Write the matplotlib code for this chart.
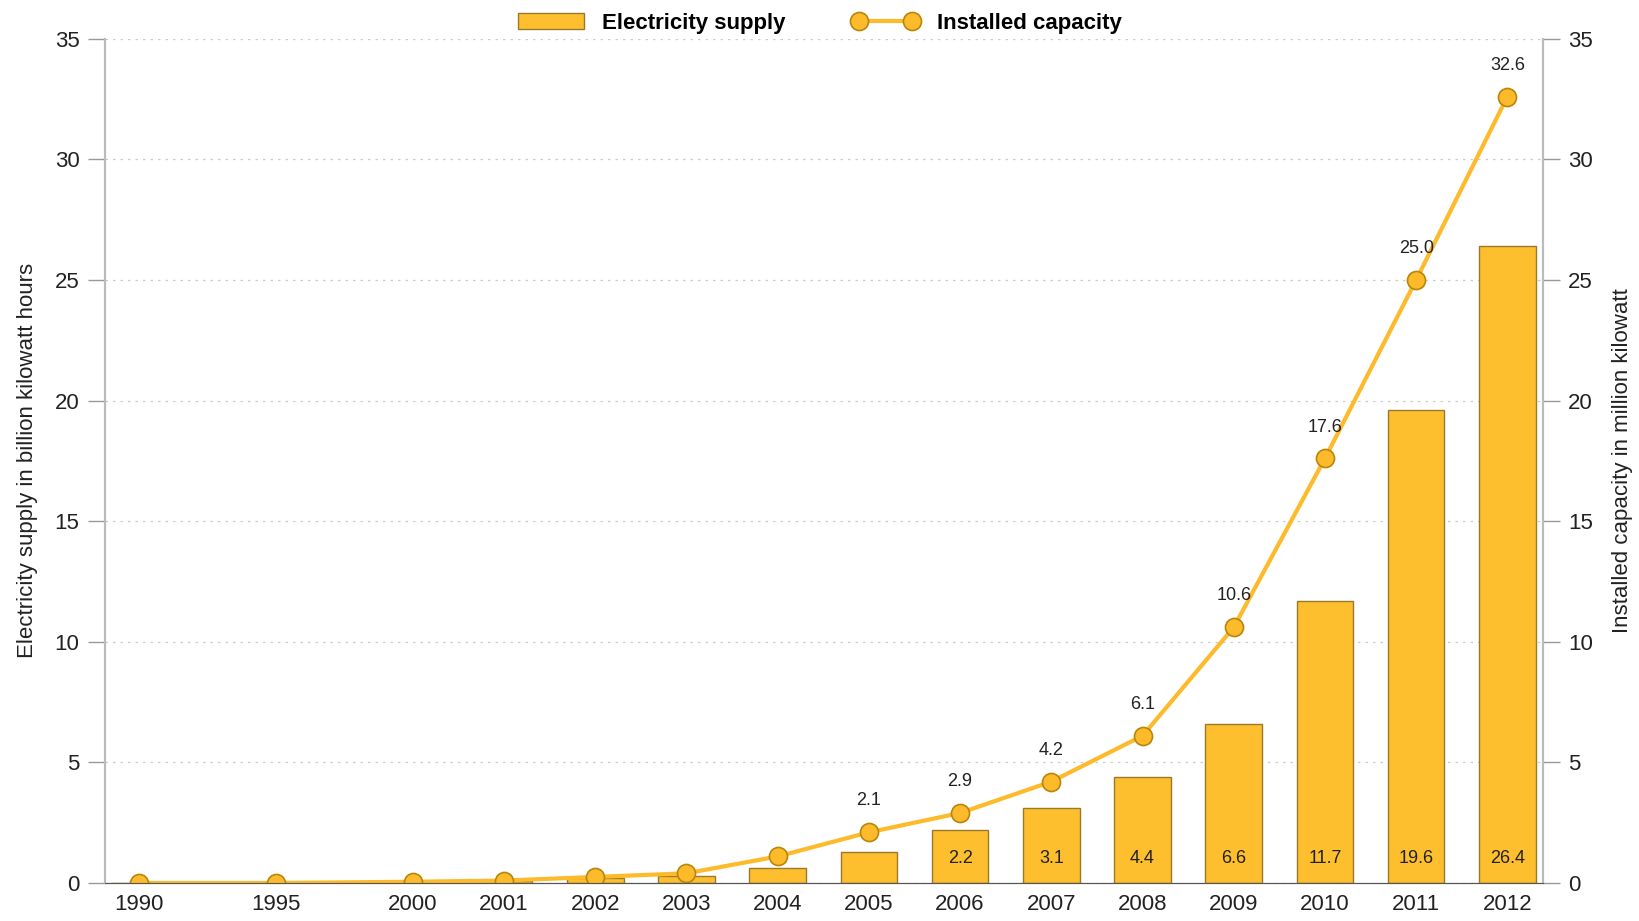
import matplotlib.pyplot as plt
import numpy as np

years = ['1990', '1995', '2000', '2001', '2002', '2003', '2004', '2005',
         '2006', '2007', '2008', '2009', '2010', '2011', '2012']
xpos = [0, 1.5, 3, 4, 5, 6, 7, 8, 9, 10, 11, 12, 13, 14, 15]
supply = [0.0, 0.0, 0.05, 0.1, 0.2, 0.3, 0.6, 1.3, 2.2, 3.1, 4.4, 6.6, 11.7, 19.6, 26.4]
capacity = [0.0, 0.0, 0.05, 0.1, 0.25, 0.4, 1.1, 2.1, 2.9, 4.2, 6.1, 10.6, 17.6, 25.0, 32.6]
supply_labels = ['', '', '', '', '', '', '', '', '2.2', '3.1', '4.4', '6.6', '11.7', '19.6', '26.4']
capacity_labels = ['', '', '', '', '', '', '', '2.1', '2.9', '4.2', '6.1', '10.6', '17.6', '25.0', '32.6']

plt.rcParams['font.family'] = ['Liberation Sans', 'DejaVu Sans']

bar_col = '#FDBF2E'
bar_edge = '#9A7A2A'
line_col = '#FDBA2A'
mk_edge = '#B8860B'
txt = '#222222'

fig = plt.figure(figsize=(16.39, 9.21), dpi=100)
ax = fig.add_axes([0.0638, 0.0413, 0.8776, 0.9167])
ax2 = ax.twinx()

bars = ax.bar(xpos, supply, width=0.62, color=bar_col, edgecolor=bar_edge, linewidth=1.0,
              label='Electricity supply', zorder=2)
ln, = ax.plot(xpos, capacity, color=line_col, lw=3, marker='o', ms=13,
              markerfacecolor=line_col, markeredgecolor=mk_edge, markeredgewidth=1.2,
              label='Installed capacity', zorder=3)

for x, v, s in zip(xpos, supply, supply_labels):
    if s:
        ax.text(x, 1.0, s, ha='center', va='center', fontsize=13, color=txt, zorder=4)
for x, v, s in zip(xpos, capacity, capacity_labels):
    if s:
        ax.text(x, v + 1.3, s, ha='center', va='center', fontsize=13, color=txt, zorder=4)

ax.set_xlim(-0.38, 15.39)
for a in (ax, ax2):
    a.set_ylim(0, 35)
    a.set_yticks(range(0, 36, 5))
ax.set_xticks(xpos)
ax.set_xticklabels(years)

ax.grid(axis='y', color='#cccccc', linestyle=(0, (2, 4)), linewidth=0.9, zorder=0)
ax.set_axisbelow(True)

for a in (ax, ax2):
    a.spines['top'].set_visible(False)
    a.spines['left'].set_color('#bbbbbb')
    a.spines['right'].set_color('#bbbbbb')
    a.spines['bottom'].set_color('#555555')
    a.spines['left'].set_linewidth(1.5)
    a.spines['right'].set_linewidth(1.5)

ax.tick_params(axis='y', length=12, width=1, color='#999999', labelsize=16, labelcolor=txt, pad=6)
ax2.tick_params(axis='y', length=12, width=1, color='#999999', labelsize=16, labelcolor=txt, pad=6)
ax.tick_params(axis='x', length=0, labelsize=16, labelcolor=txt, pad=8)

ax.set_ylabel('Electricity supply in billion kilowatt hours', fontsize=16, color=txt, labelpad=12)
ax2.set_ylabel('Installed capacity in million kilowatt', fontsize=16, color=txt, labelpad=14)

fig.legend([bars, ln], ['Electricity supply', 'Installed capacity'], loc='center',
           bbox_to_anchor=(0.5, 0.975), ncol=2, frameon=False, numpoints=2,
           handlelength=3.0, columnspacing=3, prop={'weight': 'bold', 'size': 16})

fig.savefig('out.png', dpi=100)
